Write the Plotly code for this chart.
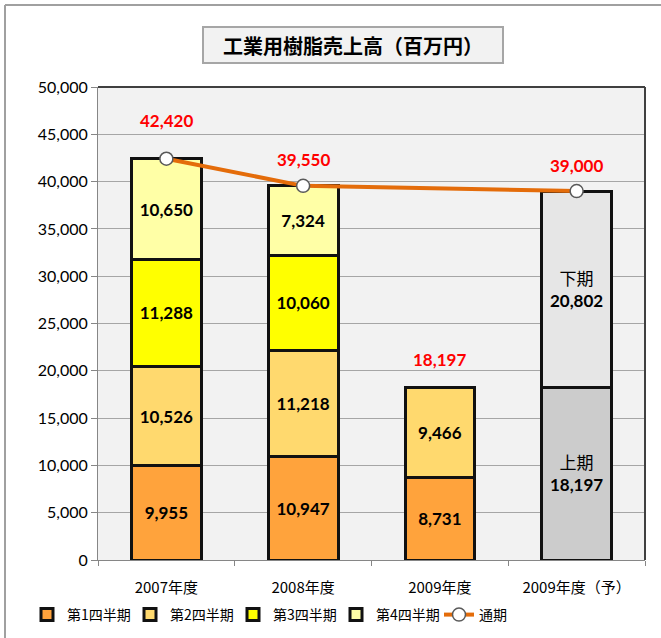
import plotly.graph_objects as go

categories = ["2007年度", "2008年度", "2009年度", "2009年度（予）"]
q1 = [9955, 10947, 8731, None]
q2 = [10526, 11218, 9466, None]
q3 = [11288, 10060, None, None]
q4 = [10650, 7324, None, None]
h1 = [None, None, None, 18197]
h2 = [None, None, None, 20802]
total = [42420, 39550, 18197, 39000]
line_total = [42420, 39550, None, 39000]

title = "工業用樹脂売上高（百万円）"
tick_vals = [0, 5000, 10000, 15000, 20000, 25000, 30000, 35000, 40000, 45000, 50000]

# styling: extra vertical offset (px) of each total label
total_label_shift = [26, 14, 16, 13]

FONT = "Lato, 'Noto Sans CJK JP', sans-serif"
JFONT = "'Noto Sans CJK JP', Lato, sans-serif"

def fmt(v):
    return "" if v is None else f"{v:,}"

fig = go.Figure()

bar_specs = [
    ("第1四半期", q1, "#FFA33C"),
    ("第2四半期", q2, "#FFD96E"),
    ("第3四半期", q3, "#FFFF00"),
    ("第4四半期", q4, "#FFFFA6"),
]
for name, vals, color in bar_specs:
    fig.add_trace(go.Bar(
        x=categories, y=vals, name=name,
        marker=dict(color=color, line=dict(color="#111111", width=3)),
        text=[fmt(v) for v in vals], textposition="inside",
        insidetextanchor="middle", textangle=0,
        textfont=dict(family=FONT, size=17, color="black", weight="bold"),
        width=0.51,
    ))

for name, vals, color in [("上期", h1, "#CCCCCC"), ("下期", h2, "#E6E6E6")]:
    fig.add_trace(go.Bar(
        x=categories, y=vals, name=name,
        marker=dict(color=color, line=dict(color="#111111", width=3)),
        text=["" if v is None else f"{name}<br><b>{v:,}</b>" for v in vals],
        textposition="inside", insidetextanchor="middle", textangle=0,
        textfont=dict(family=FONT, size=17, color="black"),
        width=0.51, showlegend=False,
    ))

fig.add_trace(go.Scatter(
    x=categories, y=line_total, name="通期", mode="lines+markers",
    connectgaps=True,
    line=dict(color="#E46C0A", width=4),
    marker=dict(size=13, color="white", line=dict(color="#595959", width=1.5)),
))

annotations = []
for c, t, s in zip(categories, total, total_label_shift):
    annotations.append(dict(
        x=c, y=t, xref="x", yref="y", text=f"{t:,}", showarrow=False,
        yanchor="bottom", yshift=s,
        font=dict(family=FONT, size=17, color="#FF0000", weight="bold"),
    ))

L, R, T, B = 98, 16, 87, 78
W, H = 661, 638
pw, ph = W - L - R, H - T - B

def px_x(x):
    return (x - L) / pw

def px_y(y):
    return (H - B - y) / ph

annotations.append(dict(
    x=px_x(353), y=px_y(45), xref="paper", yref="paper",
    text=f"<b>{title}</b>", showarrow=False,
    font=dict(family=JFONT, size=20, color="black"),
    bgcolor="#F2F2F2", bordercolor="#A6A6A6", borderwidth=2,
    borderpad=5, width=288, height=24,
    xanchor="center", yanchor="middle",
))

shapes = [
    dict(type="line", xref="paper", yref="paper",
         x0=px_x(5), x1=px_x(5), y0=px_y(5), y1=px_y(700),
         line=dict(color="#A0A0A0", width=2)),
    dict(type="line", xref="paper", yref="paper",
         x0=px_x(5), x1=px_x(700), y0=px_y(5), y1=px_y(5),
         line=dict(color="#A0A0A0", width=2)),
    dict(type="line", xref="paper", yref="paper",
         x0=0, x1=1, y0=1, y1=1, line=dict(color="#404040", width=2)),
    dict(type="line", xref="paper", yref="paper",
         x0=1, x1=1, y0=0, y1=1, line=dict(color="#404040", width=2)),
]

fig.update_layout(
    width=W, height=H,
    margin=dict(l=L, r=R, t=T, b=B, autoexpand=False),
    barmode="stack",
    paper_bgcolor="white",
    plot_bgcolor="#F2F2F2",
    font=dict(family=FONT, size=14, color="black"),
    annotations=annotations,
    shapes=shapes,
    legend=dict(
        orientation="h", x=px_x(27), y=px_y(615), xanchor="left", yanchor="middle",
        font=dict(family=JFONT, size=14, color="black"),
        traceorder="normal", itemwidth=30, entrywidth=58,
        bgcolor="rgba(0,0,0,0)",
    ),
    xaxis=dict(
        type="category", showgrid=False, showline=True, linecolor="#868686",
        linewidth=1, ticks="outside", tickson="boundaries", ticklen=5,
        tickcolor="#868686", ticklabelstandoff=14,
        tickfont=dict(family=JFONT, size=15, color="black"),
        fixedrange=True,
    ),
    yaxis=dict(
        range=[0, 50000], tickvals=tick_vals, tickformat=",",
        showgrid=True, gridcolor="#A6A6A6", gridwidth=1,
        showline=True, linecolor="#868686", linewidth=1,
        ticks="outside", ticklen=6, tickcolor="#868686",
        tickfont=dict(family=FONT, size=16, color="black"),
        zeroline=False, fixedrange=True,
    ),
    hovermode=False,
)

fig.write_html("out.html", config={"displayModeBar": False},
               post_script="document.body.style.margin='0';")
